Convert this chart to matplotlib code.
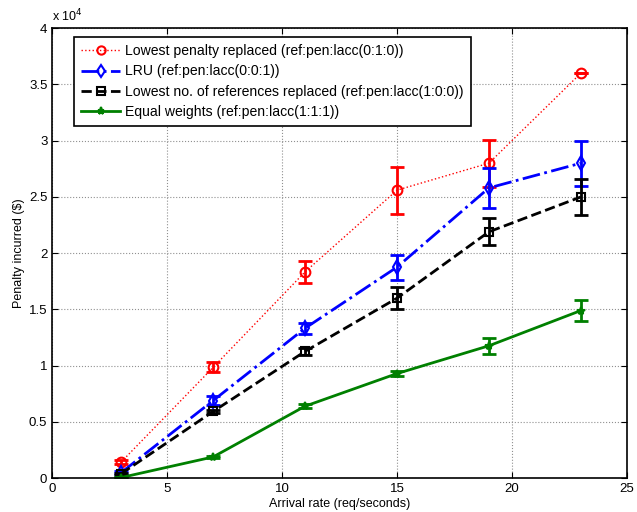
import matplotlib
matplotlib.use('Agg')
import matplotlib.pyplot as plt
from matplotlib.ticker import FuncFormatter

plt.rcParams['font.family'] = ['Liberation Sans', 'DejaVu Sans']
plt.rcParams['font.size'] = 9

# Data
arrival = [3, 7, 11, 15, 19, 23]

lowest_penalty = [1440, 9850, 18340, 25600, 28000, 36000]
lowest_penalty_err = [150, 450, 1000, 2100, 2100, 0]

lru = [500, 6900, 13330, 18760, 25800, 28000]
lru_err = [100, 400, 500, 1100, 1800, 2000]

lowest_refs = [400, 5930, 11270, 16000, 21900, 25000]
lowest_refs_err = [100, 150, 300, 1000, 1200, 1600]

equal_weights = [60, 1890, 6400, 9300, 11770, 14900]
equal_weights_err = [30, 80, 200, 250, 700, 900]

labels = ['Lowest penalty replaced (ref:pen:lacc(0:1:0))',
          'LRU (ref:pen:lacc(0:0:1))',
          'Lowest no. of references replaced (ref:pen:lacc(1:0:0))',
          'Equal weights (ref:pen:lacc(1:1:1))']

series = [
    (lowest_penalty, lowest_penalty_err, 'red', ':', 1, 'o', 7),
    (lru, lru_err, 'blue', '-.', 2, 'd', 7),
    (lowest_refs, lowest_refs_err, 'black', '--', 2, 's', 6),
    (equal_weights, equal_weights_err, (0, 0.5, 0), '-', 2, '*', 6),
]

fig = plt.figure(figsize=(6.37, 5.12), dpi=100)
ax = fig.add_axes([0.082, 0.066, 0.902, 0.879])

for (vals, err, col, ls, lw, mk, ms), lab in zip(series, labels):
    # error bars only, the line + marker goes in the legend
    ax.errorbar(arrival, vals, yerr=err, color=col, linestyle='none',
                elinewidth=2, capsize=5, capthick=2)
    ax.plot(arrival, vals, color=col, linestyle=ls, linewidth=lw, marker=mk,
            markersize=ms, markerfacecolor='none' if mk != '*' else col,
            markeredgewidth=1.5, label=lab)

ax.set_xlim(0, 25)
ax.set_ylim(0, 40000)
ax.set_xticks([0, 5, 10, 15, 20, 25])
ax.set_yticks([i * 5000 for i in range(9)])
ax.yaxis.set_major_formatter(FuncFormatter(lambda v, p: '%g' % (v / 1e4)))
ax.text(0, 1.008, r'x 10$^4$', transform=ax.transAxes, ha='left',
        va='bottom', fontsize=9)

ax.grid(True, linestyle=':', color='#909090', linewidth=0.8)
ax.tick_params(direction='in', top=True, right=True, labelsize=9.5, length=4)
for s in ax.spines.values():
    s.set_linewidth(1.2)

ax.set_xlabel('Arrival rate (req/seconds)', fontsize=9, labelpad=2)
ax.set_ylabel('Penalty incurred ($)', fontsize=9, labelpad=3)

leg = ax.legend(loc='upper left', bbox_to_anchor=(0.038, 0.98),
                fancybox=False, framealpha=1, edgecolor='black',
                handlelength=2.8, handletextpad=0.35, borderpad=0.5,
                borderaxespad=0, labelspacing=0.45, fontsize=10.1,
                markerscale=0.85)
leg.get_frame().set_linewidth(1.2)

fig.savefig('out.png', dpi=100)
